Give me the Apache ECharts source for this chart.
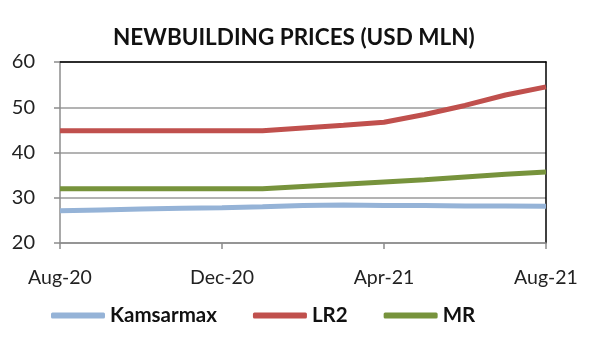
<!DOCTYPE html>
<html>
<head>
<meta charset="utf-8">
<script src="https://cdn.jsdelivr.net/npm/echarts@6/dist/echarts.min.js"></script>
<style>html,body{margin:0;padding:0;background:#fff}#c{width:600px;height:340px}</style>
</head>
<body>
<div id="c"></div>
<script>
var months = ["Aug-20","Sep-20","Oct-20","Nov-20","Dec-20","Jan-21","Feb-21","Mar-21","Apr-21","May-21","Jun-21","Jul-21","Aug-21"];
var kamsarmax = [27.1, 27.3, 27.5, 27.7, 27.8, 28.0, 28.3, 28.4, 28.3, 28.3, 28.2, 28.2, 28.1];
var lr2 = [44.8, 44.8, 44.8, 44.8, 44.8, 44.8, 45.4, 46.0, 46.7, 48.4, 50.4, 52.7, 54.5];
var mr = [32.0, 32.0, 32.0, 32.0, 32.0, 32.0, 32.5, 33.0, 33.5, 34.0, 34.6, 35.2, 35.7];
var yTicks = {min: 20, max: 60, interval: 10};
var title = "NEWBUILDING PRICES (USD MLN)";

var FONT = "Lato";
var chart = echarts.init(document.getElementById('c'), null, {renderer: 'canvas'});
chart.setOption({
  animation: false,
  backgroundColor: '#fff',
  title: {
    text: title, left: 108, top: 21,
    textStyle: {fontFamily: FONT, fontWeight: 'bold', fontSize: 22.5, color: '#111'}
  },
  legend: {
    left: 46, top: 300, icon: 'roundRect', itemWidth: 54, itemHeight: 6, itemGap: 36,
    textStyle: {fontFamily: FONT, fontWeight: 'bold', fontSize: 20.5, color: '#111'},
    data: ['Kamsarmax', 'LR2', 'MR']
  },
  grid: {left: 60, right: 54, top: 62, bottom: 97},
  xAxis: [{
    type: 'category', data: months, boundaryGap: false,
    axisLine: {lineStyle: {color: '#8c8c8c', width: 1.5}},
    axisTick: {interval: 3, length: 6, lineStyle: {color: '#8c8c8c', width: 1.5}},
    axisLabel: {interval: 3, fontFamily: FONT, fontSize: 19.5, color: '#222', margin: 25},
    splitLine: {show: false}
  }, {
    type: 'category', data: months, boundaryGap: false, position: 'top',
    axisLine: {lineStyle: {color: '#000', width: 1.5}},
    axisTick: {show: false}, axisLabel: {show: false}, splitLine: {show: false}
  }],
  yAxis: [{
    type: 'value', min: yTicks.min, max: yTicks.max, interval: yTicks.interval,
    axisLine: {show: true, lineStyle: {color: '#8c8c8c', width: 1.5}},
    axisTick: {show: true, length: 6, lineStyle: {color: '#8c8c8c', width: 1.5}},
    axisLabel: {fontFamily: FONT, fontSize: 20, color: '#222', margin: 25},
    splitLine: {lineStyle: {color: '#9a9a9a', width: 1.5}}
  }, {
    type: 'value', min: yTicks.min, max: yTicks.max, interval: yTicks.interval, position: 'right',
    axisLine: {show: true, lineStyle: {color: '#000', width: 1.5}},
    axisTick: {show: false}, axisLabel: {show: false}, splitLine: {show: false}
  }],
  series: [
    {name: 'Kamsarmax', type: 'line', data: kamsarmax, showSymbol: false, symbol: 'none', color: '#95B3D7', lineStyle: {width: 5, color: '#95B3D7'}, z: 3},
    {name: 'LR2', type: 'line', data: lr2, showSymbol: false, symbol: 'none', color: '#C0504D', lineStyle: {width: 5, color: '#C0504D'}, z: 3},
    {name: 'MR', type: 'line', data: mr, showSymbol: false, symbol: 'none', color: '#77933C', lineStyle: {width: 5, color: '#77933C'}, z: 3}
  ]
});
</script>
</body>
</html>
